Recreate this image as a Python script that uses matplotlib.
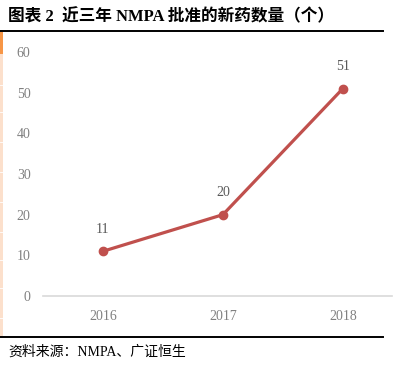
import matplotlib.pyplot as plt
from matplotlib.patches import Rectangle
from matplotlib.lines import Line2D

years = ['2016', '2017', '2018']
approvals = [11, 20, 51]
yticks = [0, 10, 20, 30, 40, 50, 60]

W, H = 403, 371
fig = plt.figure(figsize=(W / 100, H / 100), dpi=100)

def fx(px):
    return px / W

def fy(py):
    return 1 - py / H

cjk = ['Liberation Serif', 'Noto Sans CJK SC']

# title and rules
fig.text(fx(8), fy(17), '图表 2  近三年 NMPA 批准的新药数量（个）', family=cjk,
         fontsize=12, fontweight='bold', va='center', ha='left')
fig.add_artist(Line2D([0, fx(383)], [fy(31), fy(31)], color='black', lw=1.4))
fig.add_artist(Line2D([0, fx(383)], [fy(337), fy(337)], color='black', lw=1.4))
fig.text(fx(8), fy(352), '资料来源：NMPA、广证恒生', family=cjk,
         fontsize=10, va='center', ha='left')

# left decorative strip
fig.add_artist(Rectangle((0, fy(54)), fx(3), fy(32) - fy(54), color='#F79646', lw=0))
fig.add_artist(Rectangle((0, fy(336)), fx(3), fy(54) - fy(336), color='#FCE0CC', lw=0))
for py in [85, 112, 142, 172, 202, 232, 260, 288, 318]:
    fig.add_artist(Line2D([0, fx(3)], [fy(py), fy(py)], color='white', lw=0.6))

ax = fig.add_axes([fx(43), fy(296), fx(392) - fx(43), fy(52) - fy(296)])
x = range(len(years))
ax.plot(x, approvals, color='#C0504D', lw=2.3, marker='o', markersize=6,
        clip_on=False, zorder=3)
for i, v in enumerate(approvals):
    ax.annotate(str(v), (i, v), xytext=(0, 11), textcoords='offset points',
                ha='center', va='bottom', color='#595959', fontsize=10,
                family='Liberation Serif')

ax.set_xlim(-0.5, 2.41)
ax.set_ylim(0, 60)
ax.set_xticks(list(x))
ax.set_xticklabels(years)
ax.set_yticks(yticks)
for s in ['top', 'right', 'left']:
    ax.spines[s].set_visible(False)
ax.spines['bottom'].set_color('#D9D9D9')
ax.spines['bottom'].set_linewidth(1.2)
ax.tick_params(axis='both', length=0, colors='#808080', labelsize=10)
ax.tick_params(axis='y', pad=9)
ax.tick_params(axis='x', pad=10)
for lab in ax.get_xticklabels() + ax.get_yticklabels():
    lab.set_family('Liberation Serif')

fig.savefig('out.png', dpi=100)
